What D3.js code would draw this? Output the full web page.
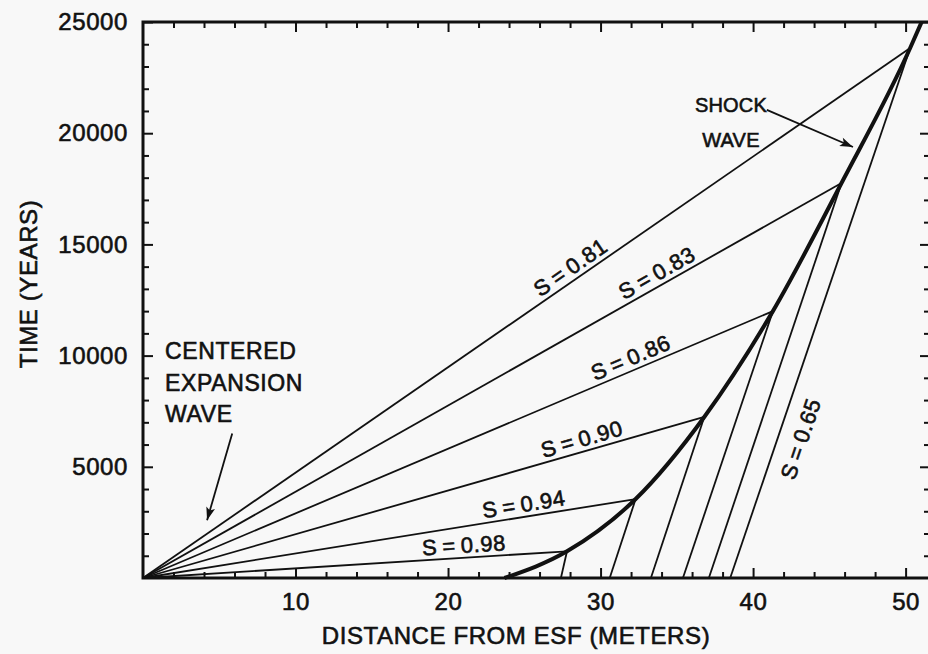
<!DOCTYPE html>
<html>
<head>
<meta charset="utf-8">
<script src="https://cdn.jsdelivr.net/npm/d3@7"></script>
<style>
  body { margin: 0; background: #f8f8f8; }
  svg text { font-family: "Liberation Sans", Arial, sans-serif; fill: #111; }
</style>
</head>
<body>
<div id="container"></div>
<script>
let w = 928;
let h = 654;

// DATA
// shock wave front: distance (m) and time (years)
let shockX = [23.7, 27.8, 32.3, 36.8, 41.3, 45.8, 50.3, 51.05];
let shockT = [0, 1200, 3550, 7240, 12000, 17760, 23830, 25000];

// fan of the centered expansion wave, each line from the origin to the shock
let fanS = ["0.98", "0.94", "0.90", "0.86", "0.83", "0.81"];
let fanEndX = [27.8, 32.3, 36.8, 41.3, 45.8, 50.3];
let fanEndT = [1200, 3550, 7240, 12000, 17760, 23830];

// S = 0.65 lines behind the shock: where they meet t = 0
let footX = [27.4, 30.6, 33.3, 35.4, 37.1, 38.5];

// tick labels
let xTicks = [10, 20, 30, 40, 50];
let yTicks = [5000, 10000, 15000, 20000, 25000];

// where along each fan line its label sits (distance, m)
let fanLabelAt = [21.1, 25.1, 29.0, 32.3, 34.1, 28.5];

let viz = d3.select("#container").append("svg")
    .attr("width", w)
    .attr("height", h)
    .style("background-color", "#f8f8f8");

// SCALES
let xScale = d3.scaleLinear().domain([0, 51.6]).range([143, 930]);
let yScale = d3.scaleLinear().domain([0, 25000]).range([578, 22]);

let ink = "#111";

function inkText(sel, size, spacing) {
  sel.style("font-size", size + "px")
    .style("letter-spacing", (spacing == undefined ? 0.6 : spacing) + "px")
    .attr("fill", ink)
    .attr("stroke", ink)
    .attr("stroke-width", 0.6);
}

// arrow head
viz.append("defs").append("marker")
    .attr("id", "arrow")
    .attr("viewBox", "-14 -6 16 12")
    .attr("markerWidth", 16)
    .attr("markerHeight", 12)
    .attr("markerUnits", "userSpaceOnUse")
    .attr("orient", "auto")
  .append("path")
    .attr("d", "M0,0 L-13,-4.5 L-10,0 L-13,4.5 Z")
    .attr("fill", ink);

// AXES (ticks point inwards)
function styleAxis(g) {
  g.select(".domain").remove();
  g.selectAll(".tick line").attr("stroke", ink).attr("stroke-width", 2);
  g.selectAll("text").call(inkText, 24);
}
let minorX = d3.range(2, 52, 2).filter(d => d % 10 != 0);
let minorY = d3.range(1000, 25000, 1000).filter(d => d % 5000 != 0);

viz.append("g").attr("transform", "translate(0,578)")
  .call(d3.axisBottom(xScale).tickValues(xTicks).tickSize(-10).tickPadding(15).tickFormat(d3.format("d")))
  .call(styleAxis);
viz.append("g").attr("transform", "translate(0,578)")
  .call(d3.axisBottom(xScale).tickValues(minorX).tickSize(-6).tickFormat(""))
  .call(styleAxis);
viz.append("g").attr("transform", "translate(0,22)")
  .call(d3.axisTop(xScale).tickValues(xTicks).tickSize(-10).tickFormat(""))
  .call(styleAxis);
viz.append("g").attr("transform", "translate(0,22)")
  .call(d3.axisTop(xScale).tickValues(minorX).tickSize(-6).tickFormat(""))
  .call(styleAxis);

viz.append("g").attr("transform", "translate(143,0)")
  .call(d3.axisLeft(yScale).tickValues(yTicks).tickSize(-10).tickPadding(15).tickFormat(d3.format("d")))
  .call(styleAxis);
viz.append("g").attr("transform", "translate(143,0)")
  .call(d3.axisLeft(yScale).tickValues(minorY).tickSize(-6).tickFormat(""))
  .call(styleAxis);
viz.append("g").attr("transform", "translate(930,0)")
  .call(d3.axisRight(yScale).tickValues(yTicks).tickSize(-10).tickFormat(""))
  .call(styleAxis);
viz.append("g").attr("transform", "translate(930,0)")
  .call(d3.axisRight(yScale).tickValues(minorY).tickSize(-6).tickFormat(""))
  .call(styleAxis);

// frame
viz.append("rect")
    .attr("x", xScale(0)).attr("y", yScale(25000))
    .attr("width", xScale(51.6) - xScale(0))
    .attr("height", yScale(0) - yScale(25000))
    .attr("fill", "none")
    .attr("stroke", ink)
    .attr("stroke-width", 3);

// axis titles
viz.append("text")
    .attr("x", 516).attr("y", 644)
    .attr("text-anchor", "middle")
    .call(inkText, 24)
    .text("DISTANCE FROM ESF (METERS)");
viz.append("text")
    .attr("transform", "translate(37,284) rotate(-90)")
    .attr("text-anchor", "middle")
    .call(inkText, 24)
    .text("TIME (YEARS)");

// FAN LINES
let fan = fanS.map(function(s, i) {
  return {s: s, x: fanEndX[i], t: fanEndT[i], foot: footX[i], at: fanLabelAt[i]};
});

viz.selectAll(".fan").data(fan).enter()
  .append("line")
    .attr("class", "fan")
    .attr("x1", xScale(0)).attr("y1", yScale(0))
    .attr("x2", d => xScale(d.x)).attr("y2", d => yScale(d.t))
    .attr("stroke", ink)
    .attr("stroke-width", 1.8);

// S = 0.65 lines behind the shock
viz.selectAll(".behind").data(fan).enter()
  .append("line")
    .attr("class", "behind")
    .attr("x1", d => xScale(d.x)).attr("y1", d => yScale(d.t))
    .attr("x2", d => xScale(d.foot)).attr("y2", yScale(0))
    .attr("stroke", ink)
    .attr("stroke-width", 1.8);

// SHOCK WAVE
let shockLine = d3.line()
    .x(d => xScale(d[0]))
    .y(d => yScale(d[1]))
    .curve(d3.curveMonotoneX);
viz.append("path")
    .datum(d3.zip(shockX, shockT))
    .attr("d", shockLine)
    .attr("fill", "none")
    .attr("stroke", ink)
    .attr("stroke-width", 4);

// fan labels, rotated along their line
viz.selectAll(".slabel").data(fan).enter()
  .append("text")
    .attr("class", "slabel")
    .attr("transform", function(d) {
      let x0 = xScale(0), y0 = yScale(0);
      let dx = xScale(d.x) - x0, dy = yScale(d.t) - y0;
      let ang = Math.atan2(dy, dx) * 180 / Math.PI;
      let px = xScale(d.at);
      let py = y0 + dy * (px - x0) / dx;
      return "translate(" + px + "," + py + ") rotate(" + ang + ")";
    })
    .attr("y", -5)
    .attr("text-anchor", "middle")
    .call(inkText, 22)
    .text(d => "S\u2009=\u2009" + d.s);

// S = 0.65 label to the right of the outer line behind the shock
let last = fan[fan.length - 1];
let angBehind = Math.atan2(yScale(0) - yScale(last.t), xScale(last.foot) - xScale(last.x)) * 180 / Math.PI;
viz.append("text")
    .attr("transform", "translate(" + xScale(43.6) + "," + yScale(6150) + ") rotate(" + (angBehind - 180) + ")")
    .attr("text-anchor", "middle")
    .call(inkText, 22)
    .text("S\u2009=\u20090.65");

// ANNOTATIONS
let shockNote = viz.append("text")
    .attr("text-anchor", "middle")
    .call(inkText, 20, 0.2);
shockNote.append("tspan").attr("x", xScale(38.55)).attr("y", yScale(20950)).text("SHOCK");
shockNote.append("tspan").attr("x", xScale(38.55)).attr("y", yScale(19380)).text("WAVE");

viz.append("line")
    .attr("x1", xScale(40.9)).attr("y1", yScale(21050))
    .attr("x2", xScale(46.55)).attr("y2", yScale(19380))
    .attr("stroke", ink).attr("stroke-width", 1.8)
    .attr("marker-end", "url(#arrow)");

let centeredNote = viz.append("text")
    .call(inkText, 23);
centeredNote.append("tspan").attr("x", xScale(1.45)).attr("y", yScale(9846)).text("CENTERED");
centeredNote.append("tspan").attr("x", xScale(1.45)).attr("y", yScale(8408)).text("EXPANSION");
centeredNote.append("tspan").attr("x", xScale(1.45)).attr("y", yScale(7014)).text("WAVE");

viz.append("line")
    .attr("x1", xScale(5.85)).attr("y1", yScale(6500))
    .attr("x2", xScale(4.2)).attr("y2", yScale(2600))
    .attr("stroke", ink).attr("stroke-width", 1.8)
    .attr("marker-end", "url(#arrow)");
</script>
</body>
</html>
